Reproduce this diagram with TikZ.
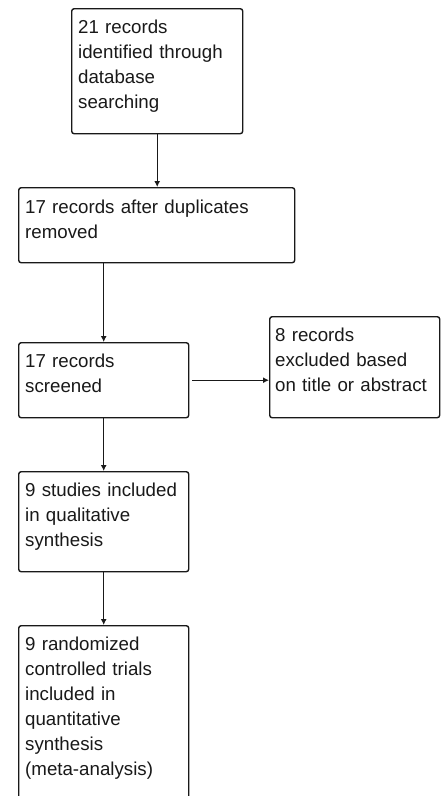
\documentclass[tikz,border=0pt]{standalone}
\usepackage{fontspec}
\setmainfont{Liberation Sans}
\usetikzlibrary{calc,arrows.meta}
\begin{document}
\begin{tikzpicture}[x=1pt,y=-1pt,
  box/.style={draw=black!90, line width=1.4pt, rounded corners=2.5pt, anchor=north west, inner sep=0pt},
  txt/.style={anchor=north west, inner sep=0pt, align=left, text width=165pt, font=\fontsize{18.7}{25}\selectfont, text=black!90},
  arr/.style={line width=1.4pt, draw=black!90, -{Latex[length=6pt,width=6pt]}}]
\useasboundingbox (0,0) rectangle (447,796);
\clip (0,0) rectangle (447,796);
\fill[white] (0,0) rectangle (447,796);
% boxes
\node[box, minimum width=171pt, minimum height=125pt] (b1) at (71,8) {};
\node[box, minimum width=276pt, minimum height=75pt] (b2) at (18,187) {};
\node[box, minimum width=170pt, minimum height=75pt] (b3) at (18,342) {};
\node[box, minimum width=170pt, minimum height=101pt] (b4) at (269,316) {};
\node[box, minimum width=170pt, minimum height=100pt] (b5) at (18,471) {};
\node[box, minimum width=170pt, minimum height=200pt] (b6) at (18,625) {};
% texts
\node[txt] (t1) at ($(b1.north west)+(7,12)$) {21 records\\identified through\\database\\searching};
\node[txt, text width=260pt] (t2) at ($(b2.north west)+(7,13)$) {17 records after duplicates\\removed};
\node[txt] (t3) at ($(b3.north west)+(7,12)$) {17 records\\screened};
\node[txt] (t4) at ($(b4.north west)+(6,12)$) {8 records\\excluded based\\on title or abstract};
\node[txt] (t5) at ($(b5.north west)+(7,12)$) {9 studies included\\in qualitative\\synthesis};
\node[txt] (t6) at ($(b6.north west)+(7,12)$) {9 randomized\\controlled trials\\included in\\quantitative\\synthesis\\(meta-analysis)};
% connectors
\draw[arr] (b1.south) -- (b1.south |- b2.north);
\draw[arr] (b3.north |- b2.south) -- (b3.north);
\draw[arr, shorten <=3pt] (b3.east) -- (b3.east -| b4.west);
\draw[arr] (b3.south) -- (b5.north);
\draw[arr] (b5.south) -- (b6.north);
\end{tikzpicture}
\end{document}
